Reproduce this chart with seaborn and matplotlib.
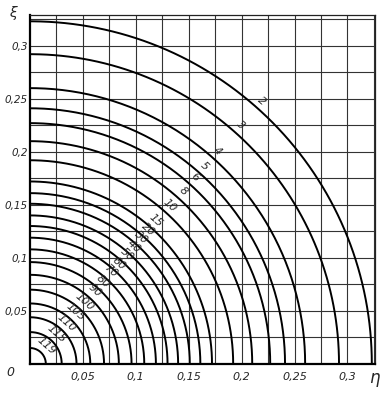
import numpy as np
import pandas as pd
import matplotlib
matplotlib.use("Agg")
import matplotlib.pyplot as plt
import seaborn as sns

# curve labels and radii
labels = [2, 3, 4, 5, 6, 8, 10, 15, 20, 30, 40, 50, 60, 70, 80, 90, 100, 105, 110, 115, 119]
radii = [0.323, 0.292, 0.260, 0.241, 0.227, 0.210, 0.192, 0.172, 0.161, 0.151, 0.140,
         0.130, 0.119, 0.108, 0.096, 0.084, 0.070, 0.057, 0.044, 0.030, 0.015]

ticks = [0.05, 0.1, 0.15, 0.2, 0.25, 0.3]
tick_labels = ["0,05", "0,1", "0,15", "0,2", "0,25", "0,3"]

sns.set_style("white")

phi = np.linspace(0, np.pi / 2, 200)
rows = []
for n, r in zip(labels, radii):
    for p in phi:
        rows.append((n, r * np.cos(p), r * np.sin(p)))
df = pd.DataFrame(rows, columns=["n", "eta", "xi"])

fig = plt.figure(figsize=(3.89, 3.93), dpi=100)
ax = fig.add_axes([0.077, 0.074, 0.887, 0.888])

sns.lineplot(data=df, x="eta", y="xi", units="n", estimator=None, sort=False,
             color="black", linewidth=1.4, ax=ax, legend=False)

# labels along a diagonal, just outside each curve
ang = np.deg2rad(48.5)
for n, r in zip(labels, radii):
    rr = r + 0.008
    ax.text(rr * np.cos(ang), rr * np.sin(ang), str(n), rotation=-41.5,
            ha="center", va="center", fontsize=8, style="italic")

ax.set_xlim(0, 0.326)
ax.set_ylim(0, 0.329)
ax.set_xticks(ticks)
ax.set_xticklabels(tick_labels)
ax.set_yticks(ticks)
ax.set_yticklabels(tick_labels)
ax.set_xticks(np.arange(0.025, 0.326, 0.05), minor=True)
ax.set_yticks(np.arange(0.025, 0.326, 0.05), minor=True)
ax.grid(True, which="both", color="#333333", linewidth=0.8)
ax.tick_params(axis="x", length=0, labelsize=8, pad=6)
ax.tick_params(axis="y", length=0, labelsize=7.5, pad=1.5)
for lab in ax.get_xticklabels() + ax.get_yticklabels():
    lab.set_style("italic")
ax.set_xlabel("")
ax.set_ylabel("")

for s in ["left", "bottom"]:
    ax.spines[s].set_linewidth(1.6)
    ax.spines[s].set_color("black")
for s in ["right", "top"]:
    ax.spines[s].set_linewidth(0.9)
    ax.spines[s].set_color("#222222")

fig.text(10 / 389, 1 - 372 / 393, "0", fontsize=9, style="italic", ha="center", va="center")
fig.text(374 / 389, 1 - 378 / 393, "η", fontsize=12, style="italic", ha="center", va="center")
fig.text(13 / 389, 1 - 13 / 393, "ξ", fontsize=10, style="italic", ha="center", va="center")

fig.savefig("out.png", dpi=100)
